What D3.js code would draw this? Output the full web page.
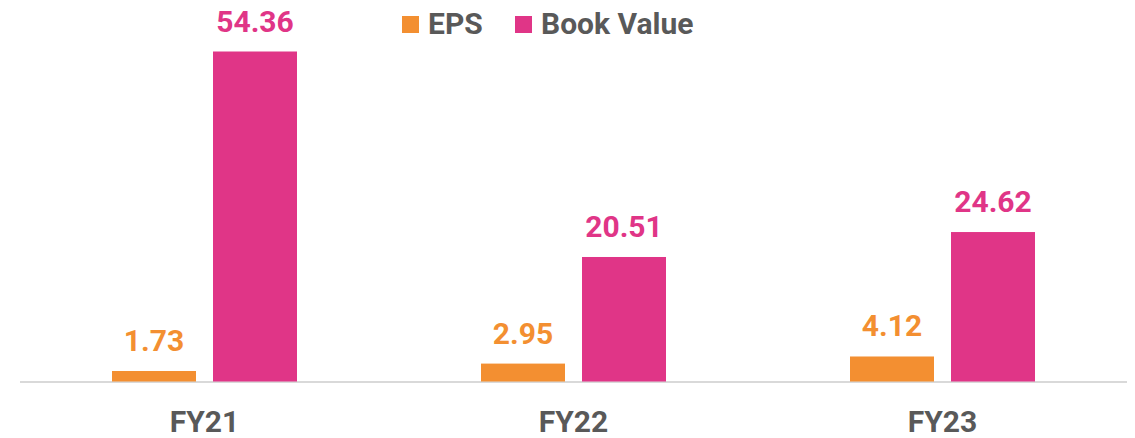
<!DOCTYPE html>
<html>
<head>
<meta charset="utf-8">
<script src="https://cdn.jsdelivr.net/npm/d3@7"></script>
<style>
  body { margin: 0; background: #fff; }
  #chart { width: 1135px; height: 438px; }
  text { font-family: Roboto, "Noto Sans", sans-serif; font-weight: 700; }
</style>
</head>
<body>
<div id="chart"></div>
<script>
const years = ["FY21", "FY22", "FY23"];
const eps = [1.73, 2.95, 4.12];
const bookValue = [54.36, 20.51, 24.62];
const seriesNames = ["EPS", "Book Value"];
const seriesColors = ["#F38F31", "#E03587"];

function drawChart() {
  const width = 1135;
  const height = 438;
  const baseline = 381.5;

  const svg = d3.select("#chart")
    .append("svg")
    .attr("width", width)
    .attr("height", height);

  const data = years.map((y, i) => ({ year: y, values: [eps[i], bookValue[i]] }));

  const xScale = d3.scaleBand()
    .domain(years)
    .range([20, 1127])
    .paddingInner(0)
    .paddingOuter(0);

  // two bars of 84px with a 17px gap
  const inner = d3.scaleBand()
    .domain(seriesNames)
    .range([-92.5, 92.5])
    .paddingInner(17 / 101)
    .paddingOuter(0);

  const yScale = d3.scaleLinear()
    .domain([0, 54.36])
    .range([baseline, 51.5]);

  // baseline axis
  svg.append("line")
    .attr("x1", 20)
    .attr("x2", 1127)
    .attr("y1", baseline + 0.5)
    .attr("y2", baseline + 0.5)
    .attr("stroke", "#d9d9d9")
    .attr("stroke-width", 2);

  const groups = svg.selectAll("g.group")
    .data(data)
    .enter()
    .append("g")
    .attr("class", "group")
    .attr("transform", (d) => "translate(" + (xScale(d.year) + xScale.bandwidth() / 2) + ",0)");

  groups.selectAll("rect")
    .data((d) => d.values.map((v, j) => ({ v: v, j: j })))
    .enter()
    .append("rect")
    .attr("x", (d) => inner(seriesNames[d.j]))
    .attr("width", inner.bandwidth())
    .attr("y", (d) => yScale(d.v))
    .attr("height", (d) => baseline - yScale(d.v))
    .attr("fill", (d) => seriesColors[d.j]);

  groups.selectAll("text.val")
    .data((d) => d.values.map((v, j) => ({ v: v, j: j })))
    .enter()
    .append("text")
    .attr("class", "val")
    .attr("x", (d) => inner(seriesNames[d.j]) + inner.bandwidth() / 2)
    .attr("y", (d) => yScale(d.v) - 20)
    .attr("text-anchor", "middle")
    .style("font-size", "30px")
    .attr("fill", (d) => seriesColors[d.j])
    .text((d) => d.v.toFixed(2));

  // category labels
  svg.selectAll("text.cat")
    .data(years)
    .enter()
    .append("text")
    .attr("class", "cat")
    .attr("x", (d) => xScale(d) + xScale.bandwidth() / 2)
    .attr("y", 432)
    .attr("text-anchor", "middle")
    .style("font-size", "30px")
    .attr("fill", "#595959")
    .text((d) => d);

  // legend
  const legend = svg.append("g").attr("id", "legend");
  const legendX = [402, 515];
  seriesNames.forEach((name, i) => {
    legend.append("rect")
      .attr("x", legendX[i])
      .attr("y", 16)
      .attr("width", 17)
      .attr("height", 17)
      .attr("fill", seriesColors[i]);
    legend.append("text")
      .attr("x", legendX[i] + 26)
      .attr("y", 33.5)
      .style("font-size", "30px")
      .attr("fill", "#595959")
      .text(name);
  });
}

drawChart();
</script>
</body>
</html>
